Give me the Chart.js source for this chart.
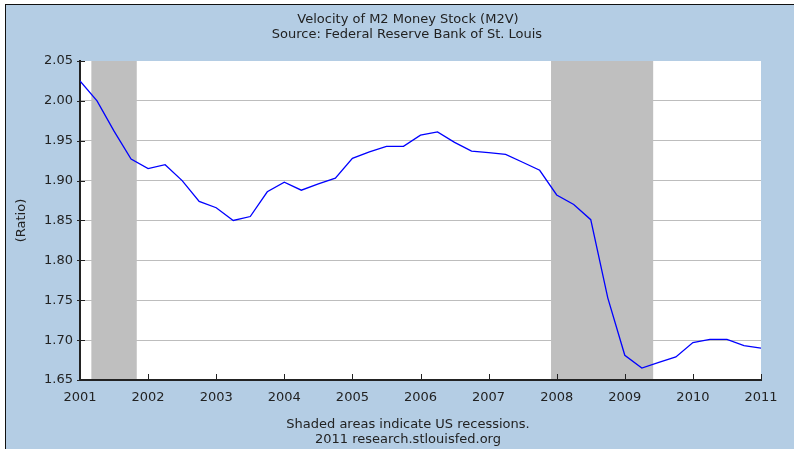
<!DOCTYPE html>
<html>
<head>
<meta charset="utf-8">
<script src="https://cdn.jsdelivr.net/npm/chart.js@4/dist/chart.umd.min.js"></script>
<style>
  html, body { margin: 0; padding: 0; background: #fff; }
  #frame {
    position: absolute; left: 5px; top: 4px; width: 800px; height: 460px;
    background: #b4cde4; border-top: 1px solid #111; border-left: 1px solid #111;
  }
  #myChart { position: absolute; left: 0; top: 0; }
</style>
</head>
<body>
<div id="frame"></div>
<canvas id="myChart" width="794" height="449"></canvas>
<script>
// quarterly observations
const quarters = [
  "2001-01", "2001-04", "2001-07", "2001-10",
  "2002-01", "2002-04", "2002-07", "2002-10",
  "2003-01", "2003-04", "2003-07", "2003-10",
  "2004-01", "2004-04", "2004-07", "2004-10",
  "2005-01", "2005-04", "2005-07", "2005-10",
  "2006-01", "2006-04", "2006-07", "2006-10",
  "2007-01", "2007-04", "2007-07", "2007-10",
  "2008-01", "2008-04", "2008-07", "2008-10",
  "2009-01", "2009-04", "2009-07", "2009-10",
  "2010-01", "2010-04", "2010-07", "2010-10",
  "2011-01"
]
const velocity = [
  2.025, 2.000, 1.962, 1.927,
  1.915, 1.920, 1.900, 1.874,
  1.866, 1.850, 1.855, 1.886,
  1.898, 1.888, 1.896, 1.903,
  1.928, 1.936, 1.943, 1.943,
  1.957, 1.961, 1.948, 1.937,
  1.935, 1.933, 1.923, 1.913,
  1.882, 1.870, 1.851, 1.753,
  1.681, 1.665, 1.672, 1.679,
  1.697, 1.701, 1.701, 1.693,
  1.690
]

// US recessions (NBER)
const recessionStart = ["2001-03", "2007-12"]
const recessionEnd = ["2001-11", "2009-06"]

const titleLines = ["Velocity of M2 Money Stock (M2V)", "Source: Federal Reserve Bank of St. Louis"]
const footerLines = ["Shaded areas indicate US recessions.", "2011 research.stlouisfed.org"]

function toYear(s) {
  const [y, m] = s.split("-").map(Number)
  return y + (m - 1) / 12
}

const points = quarters.map((q, i) => ({ x: toYear(q), y: velocity[i] }))

const FONT = "DejaVu Sans"
const TEXT = "#222"

const fredPlugin = {
  id: "fred",
  beforeDraw(chart) {
    const { ctx, chartArea: a } = chart
    ctx.save()
    ctx.fillStyle = "#fff"
    ctx.fillRect(a.left, a.top, a.right - a.left, a.bottom - a.top)
    ctx.restore()
  },
  beforeDatasetsDraw(chart) {
    // recession shading
    const { ctx, chartArea: a, scales } = chart
    ctx.save()
    ctx.fillStyle = "#bfbfbf"
    recessionStart.forEach((s, i) => {
      const x1 = scales.x.getPixelForValue(toYear(s))
      const x2 = scales.x.getPixelForValue(toYear(recessionEnd[i]))
      ctx.fillRect(x1, a.top, x2 - x1, a.bottom - a.top - 1)
    })
    ctx.restore()
  },
  afterDraw(chart) {
    const { ctx, chartArea: a, scales } = chart
    ctx.save()
    // tick marks
    ctx.strokeStyle = TEXT
    ctx.lineWidth = 1
    scales.x.ticks.forEach(t => {
      const x = Math.round(scales.x.getPixelForValue(t.value)) + 0.5
      ctx.beginPath()
      ctx.moveTo(x, a.bottom)
      ctx.lineTo(x, a.bottom - 6)
      ctx.stroke()
    })
    scales.y.ticks.forEach(t => {
      const y = Math.round(scales.y.getPixelForValue(t.value)) + 0.5
      ctx.beginPath()
      ctx.moveTo(a.left - 3, y)
      ctx.lineTo(a.left + 5, y)
      ctx.stroke()
    })
    // titles and footer
    ctx.fillStyle = TEXT
    ctx.font = `13px "${FONT}"`
    ctx.textAlign = "center"
    ctx.textBaseline = "alphabetic"
    ctx.fillText(titleLines[0], 408, 23)
    ctx.fillText(titleLines[1], 407, 38)
    ctx.fillText(footerLines[0], 408, 428)
    ctx.fillText(footerLines[1], 408, 443)
    ctx.restore()
  }
}

const ctx = document.getElementById("myChart")

const chart = new Chart(ctx, {
  type: "line",
  data: {
    datasets: [{
      label: "M2V",
      data: points,
      borderColor: "#0000ff",
      borderWidth: 1.3,
      pointRadius: 0,
      tension: 0,
      fill: false
    }]
  },
  options: {
    responsive: false,
    animation: false,
    devicePixelRatio: 1,
    layout: { padding: { left: 0, top: 61, right: 33, bottom: 39 } },
    plugins: {
      legend: { display: false },
      title: { display: false },
      tooltip: { enabled: false }
    },
    scales: {
      x: {
        type: "linear",
        min: 2001,
        max: 2011,
        afterFit: s => { s.height = 30 },
        grid: { drawOnChartArea: false, drawTicks: false },
        border: { color: TEXT, width: 2 },
        ticks: {
          stepSize: 1,
          padding: 10,
          color: TEXT,
          font: { family: FONT, size: 13 },
          callback: v => String(v)
        }
      },
      y: {
        min: 1.65,
        max: 2.05,
        afterFit: s => { s.width = 80 },
        grid: {
          drawTicks: false,
          color: c => (c.tick && c.tick.value > 2.04) ? "rgba(0,0,0,0)" : "#bdbdbd",
          lineWidth: 1
        },
        border: { color: TEXT, width: 2 },
        title: {
          display: true,
          text: "(Ratio)",
          color: TEXT,
          font: { family: FONT, size: 13 },
          padding: { top: 14, bottom: 0 }
        },
        ticks: {
          stepSize: 0.05,
          padding: 7,
          color: TEXT,
          font: { family: FONT, size: 13 },
          callback: v => v.toFixed(2)
        }
      }
    }
  },
  plugins: [fredPlugin]
})
</script>
</body>
</html>
